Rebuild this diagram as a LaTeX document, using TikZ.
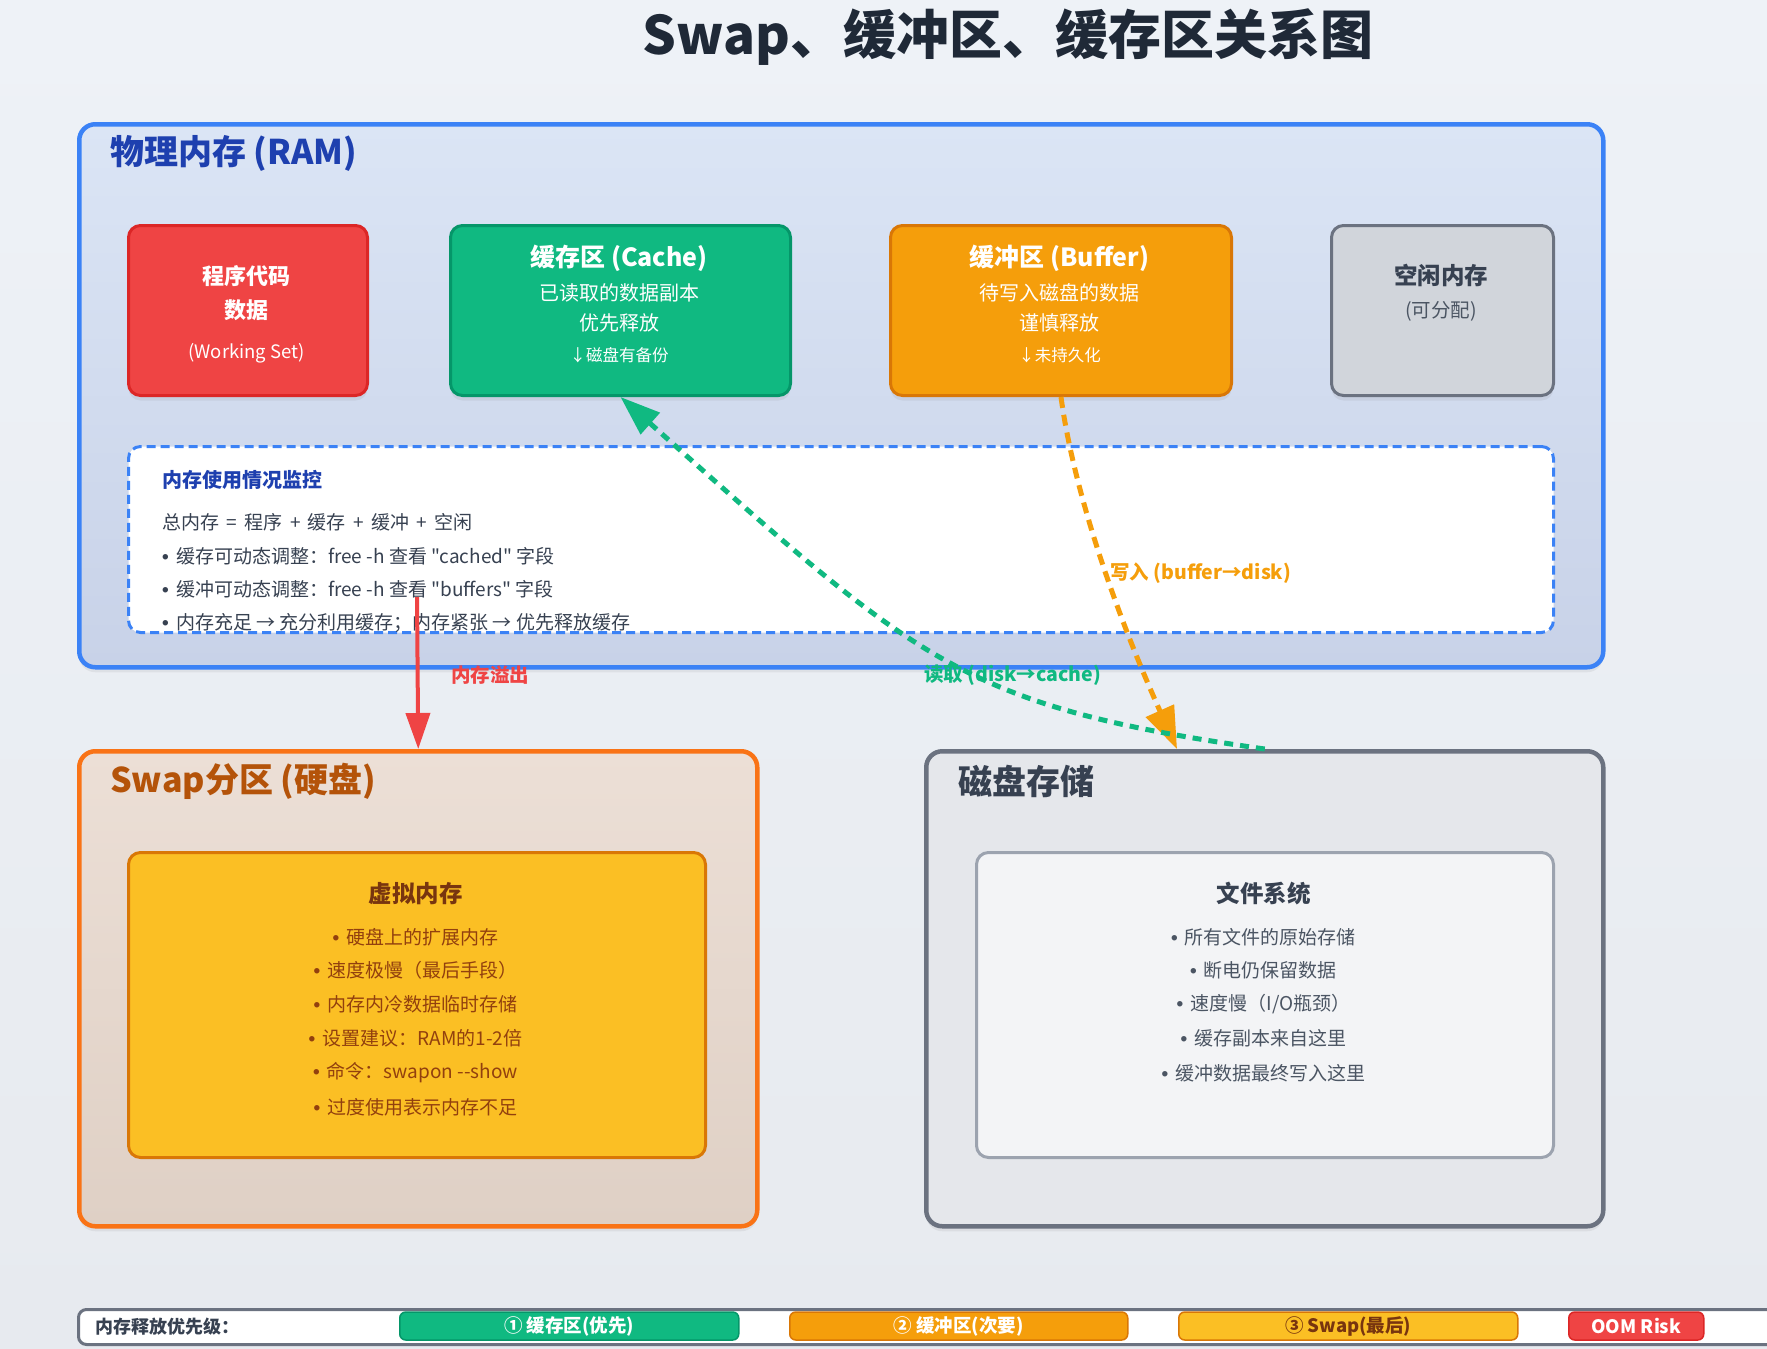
\documentclass[tikz,border=0pt]{standalone}
\usepackage{fontspec}
% plain family without TeX input ligatures, so " and -- print as typed
\newfontfamily\basefont{Noto Sans CJK SC}
\newfontfamily\bulletfont{Liberation Sans}
\usetikzlibrary{arrows.meta,shadows}

\definecolor{bgtop}{HTML}{EEF2F7}
\definecolor{bgbot}{HTML}{E7EAEF}
\definecolor{ink}{HTML}{1F2937}
\definecolor{ramblue}{HTML}{3B82F6}
\definecolor{ramtitle}{HTML}{1E40AF}
\definecolor{ramtop}{HTML}{DBE5F5}
\definecolor{rambot}{HTML}{C8D2E8}
\definecolor{progred}{HTML}{EF4444}
\definecolor{progredline}{HTML}{DC2626}
\definecolor{cachegreen}{HTML}{10B981}
\definecolor{cachegreenline}{HTML}{059669}
\definecolor{bufforange}{HTML}{F59E0B}
\definecolor{bufforangeline}{HTML}{D97706}
\definecolor{freegray}{HTML}{D1D5DB}
\definecolor{grayline}{HTML}{6B7280}
\definecolor{darkgray}{HTML}{374151}
\definecolor{midgray}{HTML}{4B5563}
\definecolor{swapline}{HTML}{F97316}
\definecolor{swaptitle}{HTML}{B45309}
\definecolor{swaptop}{HTML}{ECDFD6}
\definecolor{swapbot}{HTML}{DFD0C5}
\definecolor{vmyellow}{HTML}{FBBF24}
\definecolor{vmtitle}{HTML}{78350F}
\definecolor{vmtext}{HTML}{92400E}
\definecolor{diskfill}{HTML}{E5E7EB}
\definecolor{fsfill}{HTML}{F3F4F6}
\definecolor{fsline}{HTML}{9CA3AF}

\newcommand{\txtsize}[1]{\fontsize{#1}{#1}\selectfont}
\newcommand{\bul}{{\bulletfont\bfseries •}\hspace{0.38em}}

\tikzset{
  panel/.style={anchor=north west, inner sep=0pt, rounded corners=16pt, line width=4.5pt},
  memblock/.style={anchor=north west, inner sep=0pt, rounded corners=12pt, line width=3pt,
    minimum height=170pt},
  softshadow/.style={drop shadow={opacity=0.12, shadow xshift=0pt, shadow yshift=-5pt}},
  txt/.style={inner sep=0pt, anchor=center},
  ltxt/.style={inner sep=0pt, anchor=west},
  pill/.style={anchor=west, inner sep=0pt, rounded corners=6pt, line width=1.5pt,
    minimum height=28pt, font=\txtsize{18.5}\bfseries},
  flowlabel/.style={inner sep=0pt, anchor=west, font=\txtsize{19.5}\bfseries},
}

\begin{document}
\basefont
\begin{tikzpicture}[x=1pt, y=-1pt]
  % page and background
  \useasboundingbox (0,0) rectangle (1767,1349);
  \clip (0,0) rectangle (1767,1349);
  \shade[top color=bgtop, bottom color=bgbot] (0,0) rectangle (1767,1349);

  % title
  \node[txt, text=ink, font=\txtsize{53}\bfseries] (title) at (1008,37) {Swap、缓冲区、缓存区关系图};

  % ---------------- physical memory ----------------
  \node[panel, softshadow, draw=ramblue, top color=ramtop, bottom color=rambot,
        minimum width=1524pt, minimum height=543pt] (ram) at (77,122) {};
  \node[ltxt, text=ramtitle, font=\txtsize{34}\bfseries] (ramtitle) at (110,153) {物理内存 (RAM)};

  \node[memblock, softshadow, draw=progredline, fill=progred, minimum width=239pt] (prog) at (127,224) {};
  \node[txt, text=white, font=\txtsize{22}\bfseries] (progA) at (246.5,276) {程序代码};
  \node[txt, text=white, font=\txtsize{22}\bfseries] (progB) at (246.5,310) {数据};
  \node[txt, text=white, font=\txtsize{18.5}] (progC) at (246.5,353) {(Working Set)};

  \node[memblock, softshadow, draw=cachegreenline, fill=cachegreen, minimum width=340pt] (cache) at (449,224) {};
  \node[txt, text=white, font=\txtsize{25}\bfseries] (cacheA) at (619,258) {缓存区 (Cache)};
  \node[txt, text=white, font=\txtsize{20}] (cacheB) at (619,293) {已读取的数据副本};
  \node[txt, text=white, font=\txtsize{20}] (cacheC) at (619,323) {优先释放};
  \node[txt, text=white, font=\txtsize{16.5}] (cacheD) at (619,355) {↓磁盘有备份};

  \node[memblock, softshadow, draw=bufforangeline, fill=bufforange, minimum width=341pt] (buffer) at (889,224) {};
  \node[txt, text=white, font=\txtsize{25}\bfseries] (bufferA) at (1059.5,258) {缓冲区 (Buffer)};
  \node[txt, text=white, font=\txtsize{20}] (bufferB) at (1059.5,293) {待写入磁盘的数据};
  \node[txt, text=white, font=\txtsize{20}] (bufferC) at (1059.5,323) {谨慎释放};
  \node[txt, text=white, font=\txtsize{16.5}] (bufferD) at (1059.5,355) {↓未持久化};

  \node[memblock, softshadow, draw=grayline, fill=freegray, minimum width=222pt] (free) at (1330,224) {};
  \node[txt, text=darkgray, font=\txtsize{23.5}\bfseries] (freeA) at (1441,275) {空闲内存};
  \node[txt, text=midgray, font=\txtsize{19.5}] (freeB) at (1441,311) {(可分配)};

  % usage monitor
  \node[anchor=north west, inner sep=0pt, rounded corners=12pt, draw=ramblue, fill=white,
        line width=3pt, dash pattern=on 9pt off 5pt,
        minimum width=1425pt, minimum height=186pt] (monitor) at (127,445) {};
  \node[ltxt, text=ramtitle, font=\txtsize{20}\bfseries] (monA) at (162,480) {内存使用情况监控};
  \node[ltxt, text=darkgray, font=\txtsize{19}] (monB) at (162,522) {总内存 \,=\, 程序 \,+\, 缓存 \,+\, 缓冲 \,+\, 空闲};
  \node[ltxt, text=darkgray, font=\txtsize{19}] (monC) at (162,556) {\bul 缓存可动态调整：free -h 查看 "cached" 字段};
  \node[ltxt, text=darkgray, font=\txtsize{19}] (monD) at (162,589) {\bul 缓冲可动态调整：free -h 查看 "buffers" 字段};
  \node[ltxt, text=darkgray, font=\txtsize{19}] (monE) at (162,623) {\bul 内存充足 → 充分利用缓存；内存紧张 → 优先释放缓存};

  % ---------------- swap partition ----------------
  \node[panel, softshadow, draw=swapline, top color=swaptop, bottom color=swapbot,
        minimum width=678pt, minimum height=475pt] (swap) at (77,749) {};
  \node[ltxt, text=swaptitle, font=\txtsize{34}\bfseries] (swaptitle) at (110,781) {Swap分区 (硬盘)};

  \node[anchor=north west, inner sep=0pt, rounded corners=12pt, line width=3pt,
        draw=bufforangeline, fill=vmyellow, minimum width=577pt, minimum height=305pt] (vm) at (127,851) {};
  \node[txt, text=vmtitle, font=\txtsize{23.5}\bfseries] (vmA) at (415.5,894) {虚拟内存};
  \node[txt, text=vmtext, font=\txtsize{19}] (vmB) at (415.5,937) {\bul 硬盘上的扩展内存};
  \node[txt, text=vmtext, font=\txtsize{19}] (vmC) at (415.5,970) {\bul 速度极慢（最后手段）};
  \node[txt, text=vmtext, font=\txtsize{19}] (vmD) at (415.5,1004) {\bul 内存内冷数据临时存储};
  \node[txt, text=vmtext, font=\txtsize{19}] (vmE) at (415.5,1038) {\bul 设置建议：RAM的1-2倍};
  \node[txt, text=vmtext, font=\txtsize{19}] (vmF) at (415.5,1073) {\bul 命令：swapon --show};
  \node[txt, text=vmtext, font=\txtsize{19}] (vmG) at (415.5,1107) {\bul 过度使用表示内存不足};

  % ---------------- disk storage ----------------
  \node[panel, softshadow, draw=grayline, fill=diskfill,
        minimum width=677pt, minimum height=475pt] (disk) at (924,749) {};
  \node[ltxt, text=darkgray, font=\txtsize{34}\bfseries] (disktitle) at (958,781) {磁盘存储};

  \node[anchor=north west, inner sep=0pt, rounded corners=12pt, line width=3pt,
        draw=fsline, fill=fsfill, minimum width=577pt, minimum height=305pt] (fs) at (975,851) {};
  \node[txt, text=darkgray, font=\txtsize{23.5}\bfseries] (fsA) at (1263.5,894) {文件系统};
  \node[txt, text=midgray, font=\txtsize{19}] (fsB) at (1263.5,937) {\bul 所有文件的原始存储};
  \node[txt, text=midgray, font=\txtsize{19}] (fsC) at (1263.5,970) {\bul 断电仍保留数据};
  \node[txt, text=midgray, font=\txtsize{19}] (fsD) at (1263.5,1004) {\bul 速度慢（I/O瓶颈）};
  \node[txt, text=midgray, font=\txtsize{19}] (fsE) at (1263.5,1038) {\bul 缓存副本来自这里};
  \node[txt, text=midgray, font=\txtsize{19}] (fsF) at (1263.5,1073) {\bul 缓冲数据最终写入这里};

  % ---------------- flows ----------------
  \coordinate (overflow) at (417,597);
  \coordinate (writein) at (1177,749);

  % memory overflow into swap
  \draw[progred, line width=4pt, -{Triangle[length=36pt, width=24pt]}] (overflow) -- (swap.north);
  \node[flowlabel, text=progred] (overflowlbl) at (451,675) {内存溢出};

  % buffer written back to disk
  \draw[bufforange, line width=5pt, dash pattern=on 11pt off 7pt,
        -{Triangle[length=42pt, width=30pt]}]
    (buffer.south) .. controls (1073,486) and (1112,604) .. (writein);
  \node[flowlabel, text=bufforange] (writelbl) at (1110,573) {写入 (buffer→disk)};

  % disk read into cache
  \draw[cachegreen, line width=5pt, dash pattern=on 9pt off 7pt,
        -{Triangle[length=40pt, width=28pt]}]
    (disk.north) .. controls (962,706) and (920,664) .. (cache.south);
  \node[flowlabel, text=cachegreen] (readlbl) at (924,675) {读取 (disk→cache)};

  % ---------------- release priority legend ----------------
  \node[anchor=north west, inner sep=0pt, rounded corners=8pt, draw=grayline, fill=white,
        line width=3pt, minimum width=1800pt, minimum height=35pt] (legend) at (77,1308) {};
  \node[ltxt, text=darkgray, font=\txtsize{18}\bfseries] (legendlbl) at (95,1327) {内存释放优先级：};
  \node[pill, draw=cachegreenline, fill=cachegreen, text=white, minimum width=339pt] (p1) at (399,1326) {① 缓存区(优先)};
  \node[pill, draw=bufforangeline, fill=bufforange, text=white, minimum width=338pt] (p2) at (789,1326) {② 缓冲区(次要)};
  \node[pill, draw=bufforangeline, fill=vmyellow, text=vmtitle, minimum width=339pt] (p3) at (1178,1326) {③ Swap(最后)};
  \node[pill, draw=progredline, fill=progred, text=white, minimum width=135pt] (p4) at (1568,1326) {OOM Risk};
\end{tikzpicture}
\end{document}
